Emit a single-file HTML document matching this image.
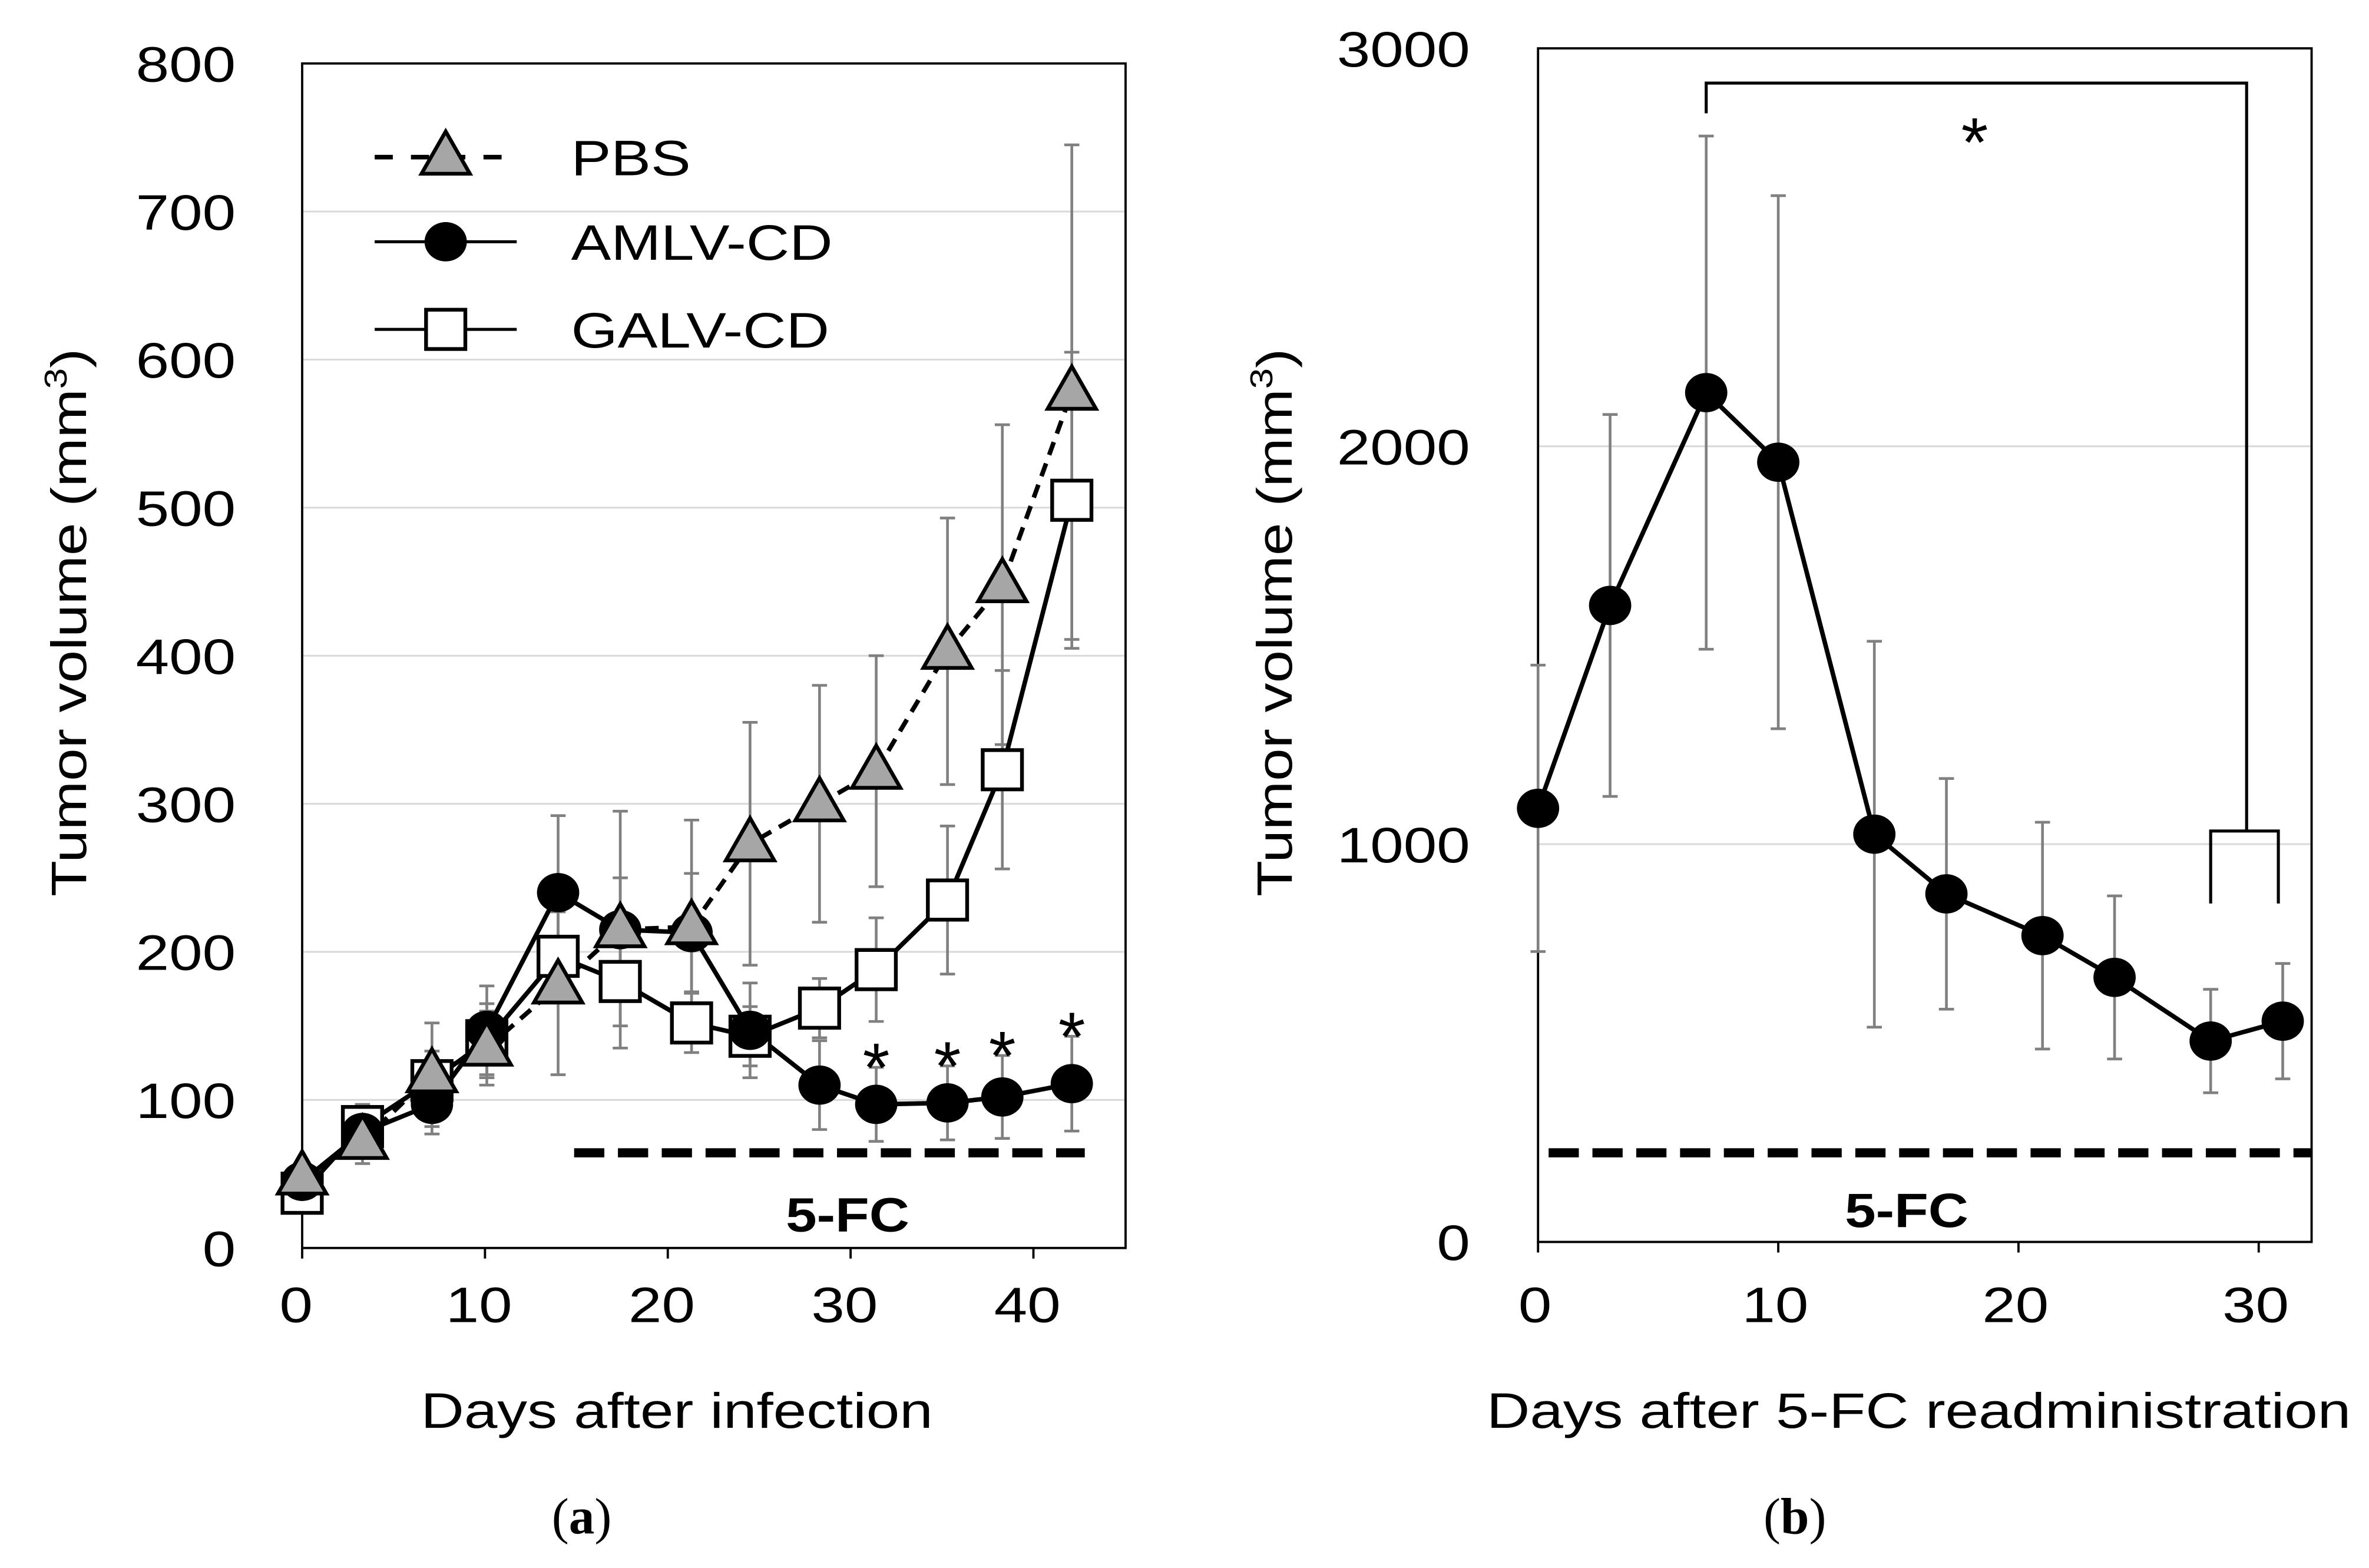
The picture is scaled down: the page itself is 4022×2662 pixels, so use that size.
<!DOCTYPE html>
<html><head><meta charset="utf-8"><style>
html,body{margin:0;padding:0;background:#fff}
svg{display:block}
text{font-family:"Liberation Sans",sans-serif;fill:#000}
</style></head><body>
<svg id="chart" width="4022" height="2662" viewBox="0 0 1568 1037.8" preserveAspectRatio="none" xmlns="http://www.w3.org/2000/svg">
<g id="pa"></g>
<g id="pb"></g>
</svg>
<script>
// Panel A data
const aDays=[0,3.3,7.1,10.1,14,17.4,21.3,24.5,28.3,31.4,35.3,38.3,42.1];
const pbsVals=[48,72,117,135,177,215,217,273,300,322,403,448,578];
const pbsErr=[10,15,35,25,60,80,72,82,80,78,90,108,167];
const amlvVals=[45,78,97,147,240,215,213,147,110,97,98,102,111];
const amlvErr=[8,15,20,30,52,35,40,32,30,25,25,28,32];
const galvVals=[37,82,113,140,197,180,152,143,162,188,235,323,505];
const galvErr=[10,15,20,25,30,30,20,20,20,35,50,67,100];
const aStarDays=[31.4,35.3,38.3,42.1];
const aYTicks=[0,100,200,300,400,500,600,700,800];
const aXTicks=[0,10,20,30,40];
// Panel B data
const bDays=[0,3,7,10,14,17,21,24,28,31];
const bVals=[1090,1600,2135,1960,1025,875,770,665,505,555];
const bErr=[360,480,645,670,485,290,285,205,130,145];
const bYTicks=[0,1000,2000,3000];
const bXTicks=[0,10,20,30];

const NS="http://www.w3.org/2000/svg";
const stretchList=[];
function mk(parent,tag,attrs,txt){const e=document.createElementNS(NS,tag);for(const k in attrs)e.setAttribute(k,attrs[k]);if(txt!==undefined)e.textContent=txt;parent.appendChild(e);return e;}
function st(e,f){stretchList.push([e,f||1.2]);return e;}

const FS=33;
const pa=document.getElementById('pa');
const ax=d=>200+12.1*d, ay=v=>826-0.98*v;
aYTicks.forEach(t=>{ if(t>0&&t<800){const g=mk(pa,'line',{x1:200,x2:745,y1:ay(t),y2:ay(t),stroke:'#d9d9d9','stroke-width':1.2});

}
const l=st(mk(pa,'text',{x:156,y:ay(t)+12,'text-anchor':'end','font-size':FS},t));

});
aXTicks.forEach(t=>{const l=st(mk(pa,'text',{x:ax(t)-4,y:875,'text-anchor':'middle','font-size':FS},t));


const tk=mk(pa,'line',{x1:ax(t),x2:ax(t),y1:826,y2:833,stroke:'#000','stroke-width':1.5});

});
const fa=mk(pa,'rect',{x:200,y:42,width:545,height:784,fill:'none',stroke:'#000','stroke-width':1.5});


function ebar(g,x,v,e,yf,name){const y1=yf(v+e),y2=yf(Math.max(v-e,0));const b=mk(g,'g',{stroke:'#808080','stroke-width':1.8});


mk(b,'line',{x1:x,x2:x,y1:y1,y2:y2});mk(b,'line',{x1:x-5,x2:x+5,y1:y1,y2:y1});mk(b,'line',{x1:x-5,x2:x+5,y1:y2,y2:y2});}
aDays.forEach((d,i)=>{ebar(pa,ax(d),pbsVals[i],pbsErr[i],ay,'error-bar-pbs');ebar(pa,ax(d),amlvVals[i],amlvErr[i],ay,'error-bar-amlv');ebar(pa,ax(d),galvVals[i],galvErr[i],ay,'error-bar-galv');});
function poly(g,xs,ys,dash,name){const p=mk(g,'polyline',{points:xs.map((x,i)=>x+','+ys[i]).join(' '),fill:'none',stroke:'#000','stroke-width':3,'stroke-dasharray':dash||'none'});

}
function tri(g,x,y,name){const p=mk(g,'polygon',{points:`${x},${y-17} ${x-16},${y+11} ${x+16},${y+11}`,fill:'#a6a6a6',stroke:'#000','stroke-width':2.5});

}
function circ(g,x,y,name){const c=mk(g,'ellipse',{cx:x,cy:y,rx:14,ry:13,fill:'#000'});

}
function sq(g,x,y,name){const s=mk(g,'rect',{x:x-13,y:y-13,width:26,height:26,fill:'#fff',stroke:'#000','stroke-width':2.5});

}
poly(pa,aDays.map(ax),galvVals.map(ay),null,'galv-line');
poly(pa,aDays.map(ax),amlvVals.map(ay),null,'amlv-line');
poly(pa,aDays.map(ax),pbsVals.map(ay),'9,6','pbs-line');
aDays.forEach((d,i)=>sq(pa,ax(d),ay(galvVals[i]),'galv-point'));
aDays.forEach((d,i)=>circ(pa,ax(d),ay(amlvVals[i]),'amlv-point'));
aDays.forEach((d,i)=>tri(pa,ax(d),ay(pbsVals[i]),'pbs-point'));
aStarDays.forEach(d=>{const i=aDays.indexOf(d);const s=mk(pa,'text',{x:ax(d),y:ay(amlvVals[i]+amlvErr[i])+16,'text-anchor':'middle','font-size':46},'*');

});
const da=mk(pa,'line',{x1:380,x2:718,y1:763,y2:763,stroke:'#000','stroke-width':6,'stroke-dasharray':'20,9'});


const la=st(mk(pa,'text',{x:561,y:815,'text-anchor':'middle','font-size':32,'font-weight':'bold'},'5-FC'),1.15);


const lg=mk(pa,'g',{});


mk(lg,'line',{x1:248,x2:342,y1:104,y2:104,stroke:'#000','stroke-width':3,'stroke-dasharray':'12,12'});tri(lg,295,104,'legend-pbs-marker');
st(mk(lg,'text',{x:378,y:116,'font-size':FS},'PBS'));
mk(lg,'line',{x1:248,x2:342,y1:160,y2:160,stroke:'#000','stroke-width':2});circ(lg,295,160,'legend-amlv-marker');
st(mk(lg,'text',{x:378,y:172,'font-size':FS},'AMLV-CD'));
mk(lg,'line',{x1:248,x2:342,y1:218,y2:218,stroke:'#000','stroke-width':2});sq(lg,295,218,'legend-galv-marker');
st(mk(lg,'text',{x:378,y:230,'font-size':FS},'GALV-CD'));
const ta=mk(pa,'text',{transform:'translate(57,412) rotate(-90)','text-anchor':'middle','font-size':FS},'Tumor volume (mm');
mk(ta,'tspan',{'font-size':21,dy:-13},'3');mk(ta,'tspan',{dy:13},')');
st(ta,1.18);


const xa=st(mk(pa,'text',{x:448,y:945,'text-anchor':'middle','font-size':FS},'Days after infection'));


const ca=mk(pa,'text',{x:385,y:1015,'text-anchor':'middle','font-size':34,style:'font-family:"Liberation Serif",serif'});
mk(ca,'tspan',{},'(');mk(ca,'tspan',{'font-weight':'bold'},'a');mk(ca,'tspan',{},')');



// Panel B
const pb=document.getElementById('pb');
const bx=d=>1018+15.9*d, by=v=>822-0.2633*v;
bYTicks.forEach(t=>{ if(t>0&&t<3000){const g=mk(pb,'line',{x1:1018,x2:1530,y1:by(t),y2:by(t),stroke:'#d9d9d9','stroke-width':1.2});

}
const l=st(mk(pb,'text',{x:973,y:by(t)+12,'text-anchor':'end','font-size':FS},t));

});
bXTicks.forEach(t=>{const l=st(mk(pb,'text',{x:bx(t)-2,y:875,'text-anchor':'middle','font-size':FS},t));


const tk=mk(pb,'line',{x1:bx(t),x2:bx(t),y1:822,y2:829,stroke:'#000','stroke-width':1.5});

});
const fb=mk(pb,'rect',{x:1018,y:32,width:512,height:790,fill:'none',stroke:'#000','stroke-width':1.5});


bDays.forEach((d,i)=>ebar(pb,bx(d),bVals[i],bErr[i],by,'error-bar-b'));
poly(pb,bDays.map(bx),bVals.map(by),null,'amlv-line-b');
bDays.forEach((d,i)=>circ(pb,bx(d),by(bVals[i]),'amlv-point-b'));
const br=mk(pb,'polyline',{points:`${bx(7)},75 ${bx(7)},55 1487,55 1487,550`,fill:'none',stroke:'#000','stroke-width':2});


const br2=mk(pb,'polyline',{points:`${bx(28)},598 ${bx(28)},550 1508,550 1508,598`,fill:'none',stroke:'#000','stroke-width':2});


const sb=mk(pb,'text',{x:1307,y:110,'text-anchor':'middle','font-size':46},'*');


const db=mk(pb,'line',{x1:1025,x2:1530,y1:763,y2:763,stroke:'#000','stroke-width':6,'stroke-dasharray':'20,9'});


const lb=st(mk(pb,'text',{x:1262,y:812,'text-anchor':'middle','font-size':32,'font-weight':'bold'},'5-FC'),1.15);


const tb=mk(pb,'text',{transform:'translate(855,412) rotate(-90)','text-anchor':'middle','font-size':FS},'Tumor volume (mm');
mk(tb,'tspan',{'font-size':21,dy:-13},'3');mk(tb,'tspan',{dy:13},')');
st(tb,1.18);


const xb=st(mk(pb,'text',{x:1270,y:945,'text-anchor':'middle','font-size':FS},'Days after 5-FC readministration'));


const cb=mk(pb,'text',{x:1188,y:1015,'text-anchor':'middle','font-size':34,style:'font-family:"Liberation Serif",serif'});
mk(cb,'tspan',{},'(');mk(cb,'tspan',{'font-weight':'bold'},'b');mk(cb,'tspan',{},')');



// horizontal stretch of text to mimic reference
stretchList.forEach(([e,f])=>{const w=e.getComputedTextLength();if(w>0){e.setAttribute('textLength',(w*f).toFixed(1));e.setAttribute('lengthAdjust','spacingAndGlyphs');}});
</script>
</body></html>
